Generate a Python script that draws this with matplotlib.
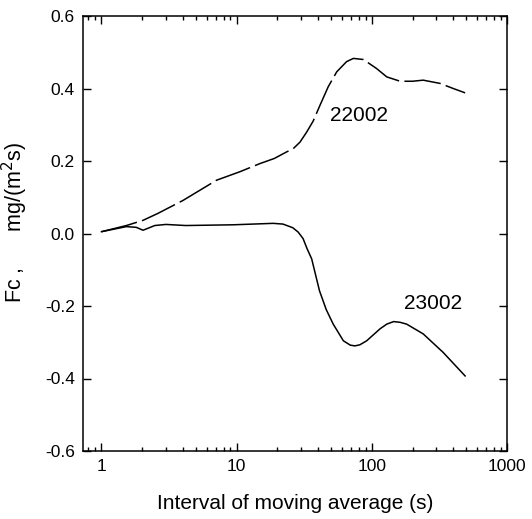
import matplotlib
matplotlib.use("Agg")
import matplotlib.pyplot as plt
from matplotlib.ticker import LogLocator, NullFormatter, FixedLocator

plt.rcParams["font.family"] = ["Liberation Sans", "DejaVu Sans"]

# series 22002 (dashed)
x_22002 = [1.0, 1.53, 2.02, 2.6, 4.0, 7.1, 10.5, 14.9, 19.0, 23.4, 26.2, 29.4,
           33.0, 36.8, 41.5, 47.6, 55.0, 65.0, 73.0, 86.6, 108.5, 129, 162,
           200, 240, 320, 400, 490]
y_22002 = [0.005, 0.022, 0.036, 0.055, 0.091, 0.147, 0.17, 0.193, 0.207, 0.225,
           0.234, 0.252, 0.28, 0.31, 0.355, 0.405, 0.446, 0.474, 0.483, 0.480,
           0.455, 0.432, 0.42, 0.42, 0.423, 0.414, 0.40, 0.388]

# series 23002 (solid)
x_23002 = [1.0, 1.53, 1.81, 2.03, 2.48, 3.0, 4.2, 9.4, 18.6, 22, 26, 28.5, 31,
           33.2, 35.9, 41, 46, 51.8, 61.6, 69.3, 75, 81.6, 91.6, 115, 129, 145,
           162, 181, 240, 337, 490]
y_23002 = [0.005, 0.019, 0.017, 0.009, 0.022, 0.025, 0.022, 0.024, 0.028,
           0.026, 0.016, 0.004, -0.014, -0.042, -0.07, -0.158, -0.21, -0.25,
           -0.296, -0.308, -0.31, -0.307, -0.296, -0.263, -0.25, -0.243,
           -0.245, -0.25, -0.277, -0.328, -0.393]

y_ticks = [-0.6, -0.4, -0.2, 0.0, 0.2, 0.4, 0.6]

fig = plt.figure(figsize=(5.32, 5.19), dpi=100)
ax = fig.add_axes([83 / 532, 1 - 451 / 519, 424 / 532, 435 / 519])

ax.plot(x_22002, y_22002, color="black", lw=1.1, dashes=(24, 3.5))
ax.plot(x_23002, y_23002, color="black", lw=1.1)

ax.set_xscale("log")
ax.set_xlim(0.73, 1000)
ax.set_ylim(-0.6, 0.6)
ax.yaxis.set_major_locator(FixedLocator(y_ticks))
ax.set_yticklabels([f"{v:.1f}" for v in y_ticks])
ax.xaxis.set_major_locator(FixedLocator([1, 10, 100, 1000]))
ax.set_xticklabels(["1", "10", "100", "1000"])
ax.xaxis.set_minor_locator(LogLocator(base=10, subs=range(2, 10)))
ax.xaxis.set_minor_formatter(NullFormatter())

ax.tick_params(which="both", direction="in", top=True, right=True,
               labelsize=12.5, width=1)
ax.tick_params(which="major", length=6, pad=6)
ax.tick_params(which="minor", length=3)
for s in ax.spines.values():
    s.set_linewidth(1.1)

ax.text(80, 0.326, "22002", fontsize=15, ha="center", va="center")
ax.text(285, -0.194, "23002", fontsize=15, ha="center", va="center")

ax.set_xlabel("Interval of moving average (s)", fontsize=15, labelpad=14)
ax.set_ylabel("Fc ,      mg/(m$^2$s)", fontsize=15.5, labelpad=8)
ax.yaxis.set_label_coords(-0.125, 0.525)

fig.savefig("out.png", dpi=100)
